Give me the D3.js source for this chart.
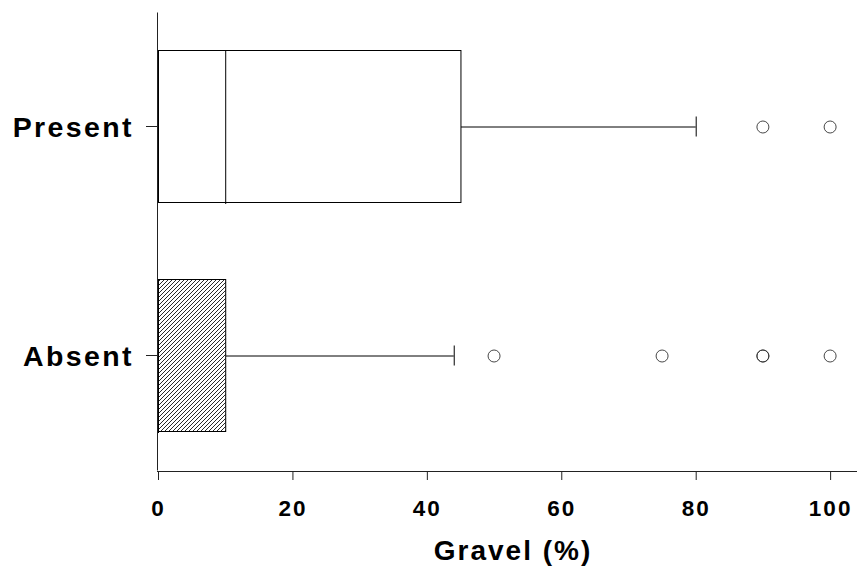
<!DOCTYPE html>
<html>
<head>
<meta charset="utf-8">
<script src="https://cdn.jsdelivr.net/npm/d3@7/dist/d3.min.js"></script>
<style>
  body { margin: 0; background: #fff; }
  svg { display: block; font-family: "Liberation Sans", Arial, sans-serif; }
</style>
</head>
<body>
<svg id="chart" width="857" height="571"></svg>
<script>
// data
const categories = ['Present', 'Absent'];
const whiskerLow = [0, 0];
const q1 = [0, 0];
const median = [10, 0];
const q3 = [45, 10];
const whiskerHigh = [80, 44];
const outliers = [
    [90, 100],
    [50, 75, 90, 90, 100]
];
const fills = ['#fff', 'url(#hatch)'];
const xTicks = [0, 20, 40, 60, 80, 100];

const svg = d3.select('#chart');

// hatch pattern for the Absent box
const pat = svg.append('defs').append('pattern')
    .attr('id', 'hatch')
    .attr('patternUnits', 'userSpaceOnUse')
    .attr('width', 4)
    .attr('height', 4);
pat.append('rect').attr('width', 4).attr('height', 4).attr('fill', '#fff');
pat.append('path')
    .attr('d', 'M-1,1 L1,-1 M0,4 L4,0 M3,5 L5,3')
    .attr('stroke', '#111')
    .attr('stroke-width', 0.9);

const x = d3.scaleLinear().domain([0, 104]).range([158, 857]);
const y = d3.scaleBand().domain(categories).range([12, 470]);
const boxH = y.bandwidth() * 0.664;

// axes
const xAxis = svg.append('g')
    .attr('transform', 'translate(0,471)')
    .call(d3.axisBottom(x).tickValues(xTicks).tickSize(9).tickSizeOuter(0).tickFormat(d3.format('d')));
xAxis.select('.domain').attr('d', 'M157,0.5H857');
xAxis.selectAll('text')
    .attr('y', 29)
    .attr('dy', '0.71em')
    .style('font-size', '22.5px')
    .style('font-weight', 'bold')
    .style('letter-spacing', '2px')
    .attr('fill', '#000');

const yAxis = svg.append('g')
    .attr('transform', 'translate(157,0)')
    .call(d3.axisLeft(y).tickSize(11).tickSizeOuter(0));
yAxis.selectAll('text')
    .attr('x', -23)
    .attr('dy', '0.36em')
    .style('font-size', '28.5px')
    .style('font-weight', 'bold')
    .style('letter-spacing', '2.4px')
    .attr('fill', '#000');

svg.selectAll('.domain, .tick line').attr('stroke', '#222');

// boxes
const g = svg.append('g');
categories.forEach((c, i) => {
    const cy = y(c) + y.bandwidth() / 2;
    // whiskers
    g.append('line')
        .attr('x1', x(q3[i])).attr('x2', x(whiskerHigh[i]))
        .attr('y1', cy + 0.5).attr('y2', cy + 0.5)
        .attr('stroke', '#000');
    g.append('line')
        .attr('x1', x(whiskerHigh[i]) + 0.5).attr('x2', x(whiskerHigh[i]) + 0.5)
        .attr('y1', cy - 10).attr('y2', cy + 10)
        .attr('stroke', '#000');
    if (whiskerLow[i] < q1[i]) {
        g.append('line')
            .attr('x1', x(whiskerLow[i])).attr('x2', x(q1[i]))
            .attr('y1', cy + 0.5).attr('y2', cy + 0.5)
            .attr('stroke', '#000');
    }
    // box
    g.append('rect')
        .attr('x', x(q1[i]) + 0.5)
        .attr('y', Math.round(cy - boxH / 2) + 0.5)
        .attr('width', x(q3[i]) - x(q1[i]))
        .attr('height', Math.round(boxH))
        .attr('fill', fills[i])
        .attr('stroke', '#000');
    g.append('line')
        .attr('x1', x(median[i]) + 0.5).attr('x2', x(median[i]) + 0.5)
        .attr('y1', Math.round(cy - boxH / 2)).attr('y2', Math.round(cy + boxH / 2) + 1)
        .attr('stroke', '#000');
    // outliers
    g.selectAll(null)
        .data(outliers[i])
        .enter()
        .append('circle')
        .attr('cx', d => x(d))
        .attr('cy', cy + 0.5)
        .attr('r', 6)
        .attr('fill', 'none')
        .attr('stroke', '#333')
        .attr('stroke-width', 0.9);
});

// axis title
svg.append('text')
    .attr('x', 513)
    .attr('y', 560)
    .attr('text-anchor', 'middle')
    .style('font-size', '28px')
    .style('font-weight', 'bold')
    .style('letter-spacing', '2px')
    .text('Gravel (%)');
</script>
</body>
</html>
